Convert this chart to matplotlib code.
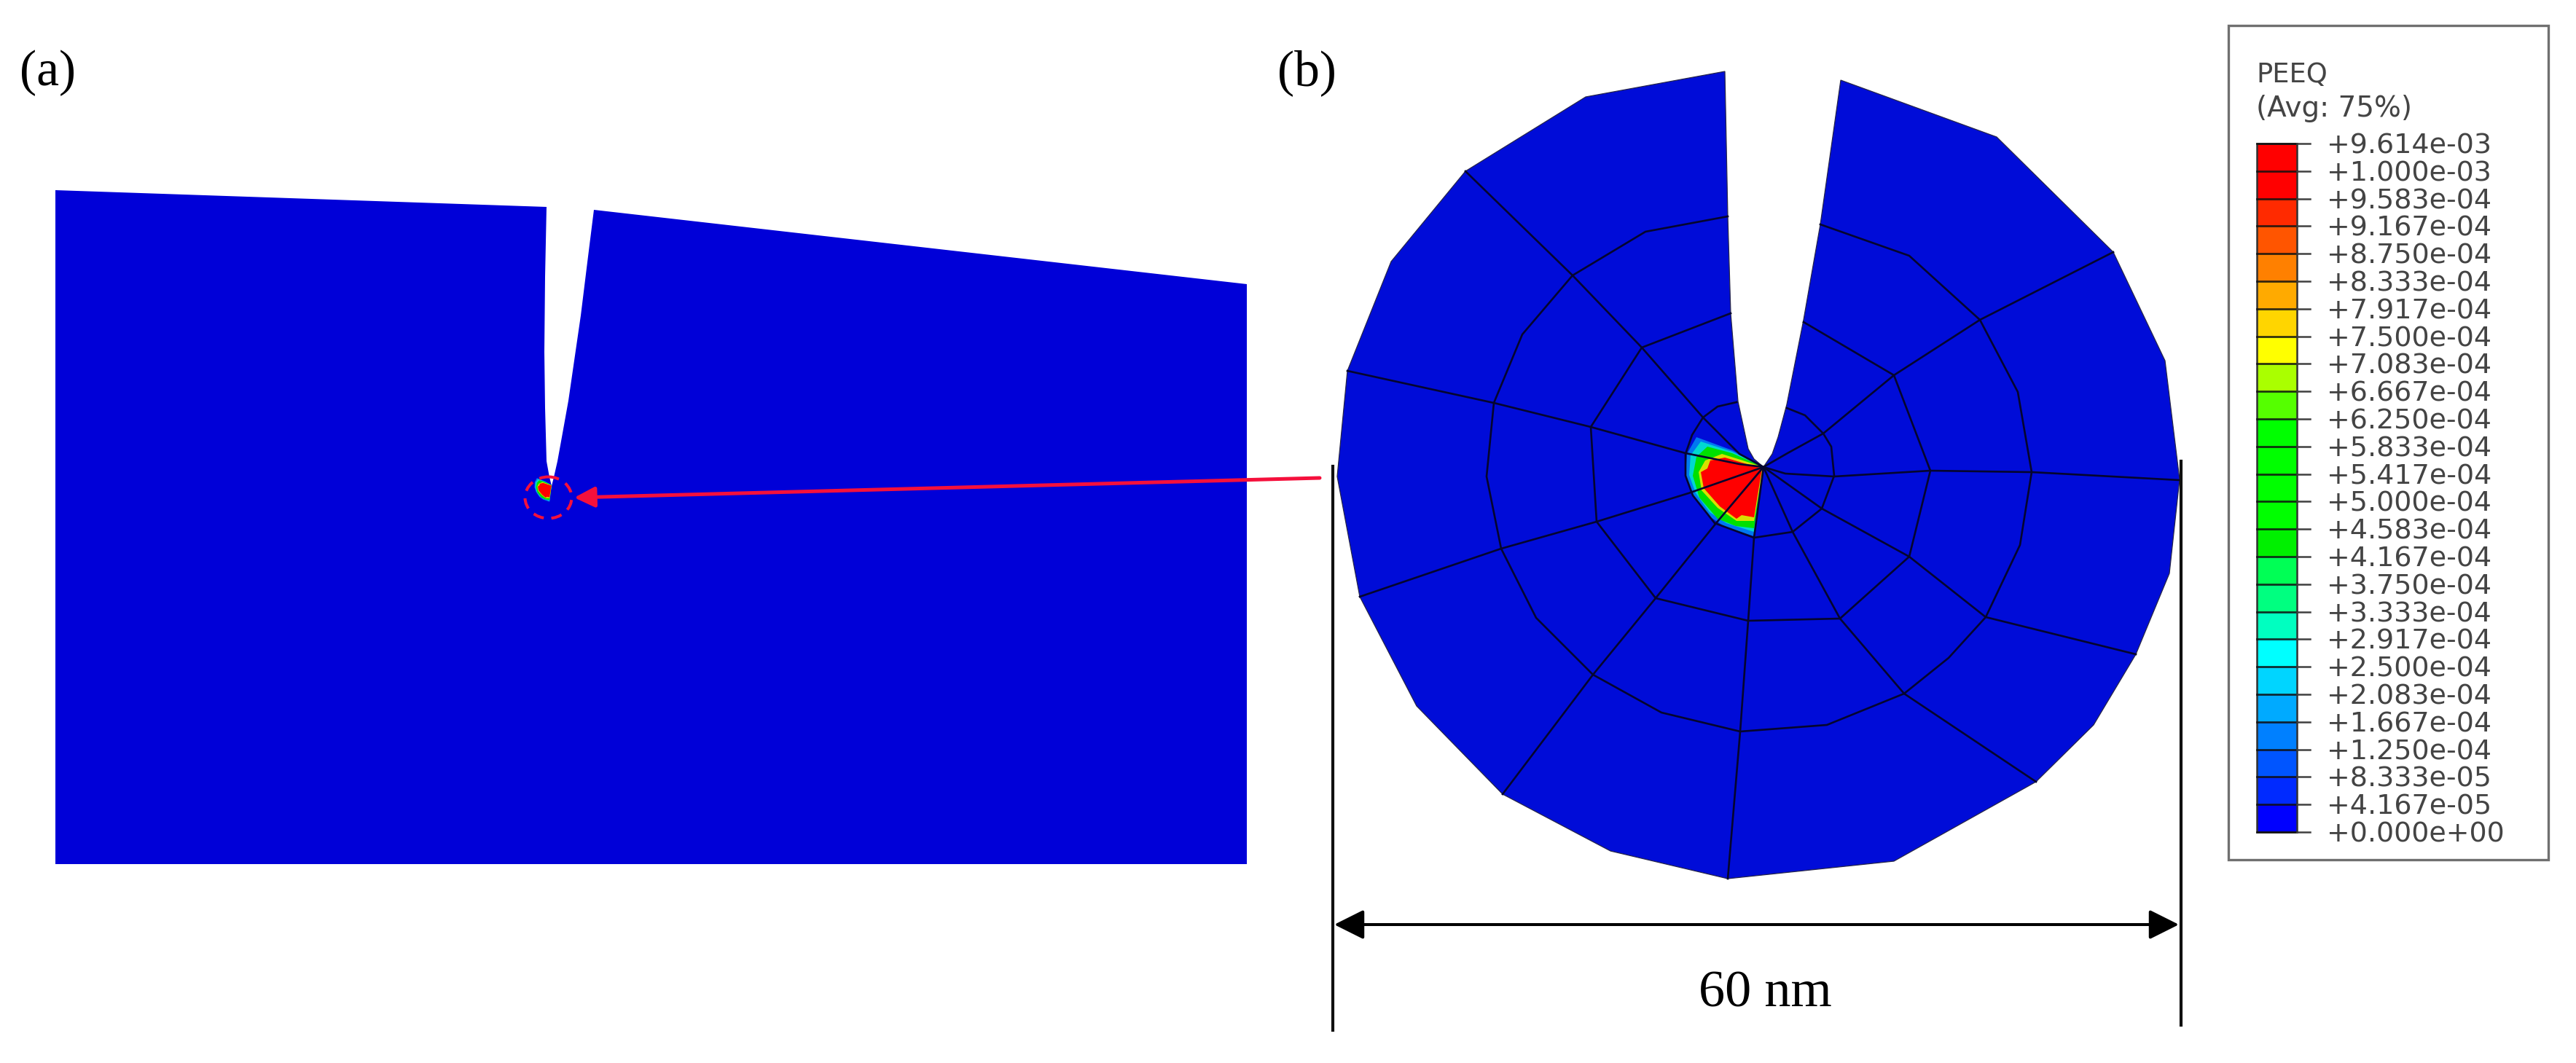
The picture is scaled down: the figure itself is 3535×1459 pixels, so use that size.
import matplotlib
matplotlib.use("Agg")
import matplotlib.pyplot as plt
from matplotlib.patches import Polygon, Ellipse, Rectangle

W, H = 3535, 1459

# ---- values (image pixel coordinates) ----
specimen_outline = [(76, 261), (750, 284), (748, 380), (747, 483), (748, 560), (750, 633), (754, 655),
                    (757, 667), (760, 655), (765, 633), (771, 600), (780, 550), (797, 433), (806, 360),
                    (815, 288), (1711, 390), (1711, 1186), (76, 1186)]
zone_outline = [(2367, 98), (2176, 133), (2011, 235), (1909, 359), (1849, 509), (1835, 654),
                (1866, 819), (1944, 969), (2062, 1090), (2210, 1168), (2371, 1206), (2599, 1182),
                (2794, 1073), (2873, 995), (2931, 898), (2977, 787), (2991, 658), (2971, 495),
                (2900, 346), (2740, 188), (2526, 110), (2498, 308), (2475, 439), (2452, 555),
                (2440, 600), (2432, 623), (2420, 641), (2407, 630), (2399, 616), (2385, 551),
                (2375, 430), (2371, 297)]
ring1 = [(2383, 552), (2357, 558), (2337, 573), (2322, 597), (2313, 623), (2313, 653), (2323, 680),
         (2353, 718), (2407, 738), (2460, 730), (2500, 698), (2517, 653), (2513, 613), (2502, 595),
         (2477, 570), (2452, 560)]
ring2 = [(2375, 430), (2253, 477), (2183, 586), (2191, 716), (2272, 821), (2399, 852),
         (2525, 849), (2620, 764), (2649, 646), (2599, 515), (2475, 442)]
ring3 = [(2371, 297), (2258, 318), (2158, 378), (2089, 459), (2050, 553), (2040, 654), (2060, 753),
         (2108, 848), (2186, 926), (2280, 978), (2388, 1004), (2507, 995), (2613, 952), (2674, 903),
         (2725, 847), (2772, 748), (2788, 648), (2769, 538), (2717, 439), (2620, 351), (2498, 308)]
spokes = [
    [(2011, 235), (2158, 378), (2253, 477), (2337, 573), (2387, 623), (2420, 641)],
    [(1849, 509), (2050, 553), (2183, 586), (2313, 622), (2343, 628), (2387, 637), (2420, 641)],
    [(1866, 819), (2060, 753), (2191, 716), (2317, 677), (2420, 641)],
    [(2062, 1090), (2186, 926), (2272, 821), (2355, 718), (2420, 641)],
    [(2371, 1206), (2388, 1004), (2399, 852), (2407, 738), (2420, 641)],
    [(2794, 1073), (2613, 952), (2525, 849), (2460, 730), (2420, 641)],
    [(2931, 898), (2725, 847), (2620, 764), (2500, 698), (2420, 641)],
    [(2991, 659), (2788, 648), (2649, 646), (2517, 654), (2450, 650), (2420, 641)],
    [(2900, 346), (2717, 439), (2599, 515), (2502, 595), (2453, 622), (2420, 641)],
]
plastic_layers = [
    ("#0078f0", [(2328, 600), (2315, 623), (2313, 653), (2323, 680), (2343, 707), (2367, 723),
                 (2407, 736), (2420, 641), (2377, 618)]),
    ("#00d8d0", [(2334, 606), (2320, 625), (2318, 652), (2327, 677), (2346, 703), (2369, 718),
                 (2407, 730), (2420, 641), (2377, 620)]),
    ("#00e000", [(2343, 613), (2328, 627), (2323, 653), (2332, 683), (2357, 712), (2382, 722),
                 (2407, 725), (2420, 641), (2377, 622)]),
    ("#d8e000", [(2363, 623), (2340, 632), (2331, 648), (2335, 673), (2357, 697), (2383, 715),
                 (2407, 715), (2420, 641)]),
    ("#ff0000", [(2347, 632), (2343, 643), (2334, 648), (2338, 670), (2360, 695), (2383, 712),
                 (2390, 707), (2407, 710), (2418, 643), (2367, 628)]),
]
legend_labels = ["+9.614e-03", "+1.000e-03", "+9.583e-04", "+9.167e-04", "+8.750e-04", "+8.333e-04",
                 "+7.917e-04", "+7.500e-04", "+7.083e-04", "+6.667e-04", "+6.250e-04", "+5.833e-04",
                 "+5.417e-04", "+5.000e-04", "+4.583e-04", "+4.167e-04", "+3.750e-04", "+3.333e-04",
                 "+2.917e-04", "+2.500e-04", "+2.083e-04", "+1.667e-04", "+1.250e-04", "+8.333e-05",
                 "+4.167e-05", "+0.000e+00"]
band_colors = ["#ff0000", "#ff0000", "#ff2a00", "#ff5500", "#ff8000", "#ffaa00", "#ffd500", "#ffff00",
               "#aaff00", "#55ff00", "#00ff00", "#00ff00", "#00ff00", "#00ff00", "#00f000", "#00ff55",
               "#00ff80", "#00ffc0", "#00ffff", "#00d5ff", "#00aaff", "#0080ff", "#0055ff", "#002aff",
               "#0000ff"]
tip_a = (757, 666)
tip_b = (2420, 641)
SERIF = "Liberation Serif"
BLUE_A, BLUE_B = "#0000d8", "#000cd8"
RED = "#f5103c"

fig = plt.figure(figsize=(W / 100, H / 100), dpi=100)
ax = fig.add_axes([0, 0, 1, 1])
ax.set_xlim(0, W)
ax.set_ylim(H, 0)
ax.axis("off")

# panel (a)
ax.add_patch(Polygon(specimen_outline, closed=True, fc=BLUE_A, ec="none", zorder=1))
for color, pts in plastic_layers:
    small = [(tip_a[0] + (x - tip_b[0]) * 0.22, tip_a[1] + (y - tip_b[1]) * 0.24) for x, y in pts]
    ax.add_patch(Polygon(small, closed=True, fc=color, ec="none", zorder=2))
ax.add_patch(Ellipse((752.5, 683), 64, 57, fc="none", ec=RED, lw=2.9,
                     ls=(0, (3.7, 2.6)), zorder=4))
ax.annotate("", xy=(788, 683), xytext=(1811, 656), zorder=4,
            arrowprops=dict(arrowstyle="-|>,head_length=17,head_width=8.5", mutation_scale=1,
                            color=RED, lw=3.6, shrinkA=0, shrinkB=0))

# panel (b)
ax.add_patch(Polygon(zone_outline, closed=True, fc=BLUE_B, ec="#25254a", lw=0.9, zorder=1))
for color, pts in plastic_layers:
    ax.add_patch(Polygon(pts, closed=True, fc=color, ec="none", zorder=2))
for line in [ring1, ring2, ring3] + spokes:
    xs, ys = zip(*line)
    ax.plot(xs, ys, color="#05052e", lw=1.9, solid_joinstyle="round", zorder=3)

# dimension marks
ax.plot([1829, 1829], [640, 1414], color="#101010", lw=3.0, zorder=3)
ax.plot([2992.5, 2992.5], [633, 1407], color="#101010", lw=3.0, zorder=3)
ax.annotate("", xy=(1831, 1269), xytext=(2990, 1269), zorder=4,
            arrowprops=dict(arrowstyle="<|-|>,head_length=25,head_width=12.5", mutation_scale=1,
                            color="black", lw=2.9, shrinkA=0, shrinkB=0))
ax.text(2422, 1381, "60 nm", family=SERIF, fontsize=52, ha="center", va="baseline", color="black")
ax.text(27, 117, "(a)", family=SERIF, fontsize=50, ha="left", va="baseline", color="black")
ax.text(1753, 117, "(b)", family=SERIF, fontsize=50, ha="left", va="baseline", color="black")

# legend
ax.add_patch(Rectangle((3058, 35), 439, 1145, fc="white", ec="#707070", lw=2.4, zorder=1))
ax.text(3096, 112.5, "PEEQ", family="DejaVu Sans", fontsize=26.5, color="#444444", va="baseline", zorder=5)
ax.text(3096, 160, "(Avg: 75%)", family="DejaVu Sans", fontsize=28, color="#444444", va="baseline", zorder=5)
top, step = 197.0, 37.8
xl, xr = 3097, 3152
for i, c in enumerate(band_colors):
    ax.add_patch(Rectangle((xl, top + i * step), xr - xl, step, fc=c, ec="none", zorder=2))
ax.add_patch(Rectangle((xl, top), xr - xl, step * len(band_colors), fc="none", ec="#303030", lw=1.8, zorder=3))
for i, lab in enumerate(legend_labels):
    y = top + i * step
    ax.plot([xl, xr], [y, y], color="#101010", lw=2.0, zorder=3, alpha=0.85)
    ax.plot([xr, 3170], [y, y], color="#404040", lw=1.8, zorder=3)
    ax.text(3193, y + 13.5, lab, family="DejaVu Sans", fontsize=27.4, color="#444444",
            ha="left", va="baseline", zorder=5)

fig.savefig("out.png", dpi=100, facecolor="white")
